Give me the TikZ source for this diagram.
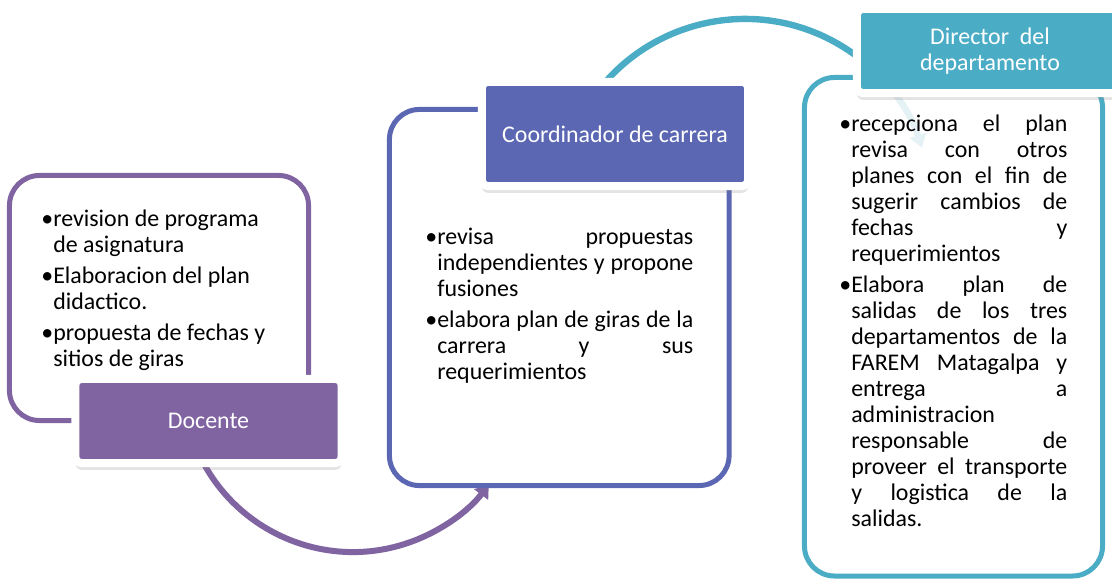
\documentclass[tikz,border=0pt]{standalone}
\usepackage{fontspec}
\setmainfont{Carlito}
\usetikzlibrary{arrows.meta,shadows}
\definecolor{docpurple}{HTML}{8064A2}
\definecolor{coordblue}{HTML}{5B67B3}
\definecolor{dirteal}{HTML}{4BACC6}
\newlength{\bulw}\setlength{\bulw}{0.3cm}
\newcommand{\bitem}{\par\hangindent=\bulw\hangafter=1\noindent\makebox[\bulw][l]{\textbullet}}
\newcommand{\btext}[2]{\parbox[t]{#1}{\fontsize{17pt}{18.45pt}\selectfont\setlength{\parskip}{3.5pt}\tolerance=10000\hyphenpenalty=10000\exhyphenpenalty=10000 #2}}

\begin{document}
\begin{tikzpicture}[x=0.025cm,y=0.025cm,
  contentbox/.style={draw,line width=0.125cm,rounded corners=0.75cm,fill=white,fill opacity=0.85,inner sep=0pt},
  namebox/.style={draw=white,line width=0.2cm,rounded corners=0.15cm,text=white,align=center,inner sep=0pt,
    font=\fontsize{17pt}{18.45pt}\selectfont,minimum width=6.65cm,
    drop shadow={shadow xshift=0pt,shadow yshift=-0.17cm,opacity=0.22}},
  flowarc/.style={line width=0.15cm,-{Triangle[width=0.42cm,length=0.32cm]}}]
\useasboundingbox (0,0) rectangle (1112,579);

% arcs between the boxes
\coordinate (pc) at (353,197);
\coordinate (tc) at (745,374);
\coordinate (pstart) at ([shift={(200:4.25cm)}]pc);
\coordinate (tstart) at ([shift={(150:4.65cm)}]tc);
\draw[flowarc,docpurple] (pstart) arc[start angle=200,end angle=323,radius=4.25cm];
\draw[flowarc,dirteal,line width=0.16cm] (tstart) arc[start angle=150,end angle=18,radius=4.65cm];

% content boxes
\node[contentbox,draw=docpurple,minimum width=7.475cm,minimum height=6.125cm] (docbox) at (159,281) {};
\node[contentbox,draw=coordblue,minimum width=8.49cm,minimum height=9.4cm] (coordbox) at (559.25,281.5) {};
\node[contentbox,draw=dirteal,minimum width=7.45cm,minimum height=12.46cm] (dirbox) at (953.5,252.25) {};

% titles
\node[namebox,fill=docpurple,minimum height=2.1cm] (docname) at (208.5,158) {Docente};
\node[namebox,fill=coordblue,minimum height=2.6cm] (coordname) at (615,445) {Coordinador de carrera};
\node[namebox,fill=dirteal,minimum height=2.1cm] (dirname) at (990,528) {Director~ del\\departamento};

% texts
\node[anchor=base west,inner sep=0pt] (doctext) at (41,352) {\btext{6cm}{\raggedright
  \bitem revision de programa\newline de asignatura
  \bitem Elaboracion del plan\newline didactico.
  \bitem propuesta de fechas y\newline sitios de giras}};
\node[anchor=base west,inner sep=0pt] (coordtext) at (425,334) {\btext{6.7cm}{%
  \bitem revisa propuestas\linebreak independientes y propone\linebreak fusiones
  \bitem elabora plan de giras de la\linebreak carrera y sus\linebreak requerimientos}};
\node[anchor=base west,inner sep=0pt] (dirtext) at (839,447) {\btext{5.7cm}{%
  \bitem recepciona el plan\linebreak revisa con otros\linebreak planes con el fin de\linebreak sugerir cambios de\linebreak fechas y\linebreak requerimientos
  \bitem Elabora plan de\linebreak salidas de los tres\linebreak departamentos de la\linebreak FAREM Matagalpa y\linebreak entrega a\linebreak administracion\linebreak responsable de\linebreak proveer el transporte\linebreak y logistica de la\linebreak salidas.}};
\end{tikzpicture}
\end{document}
